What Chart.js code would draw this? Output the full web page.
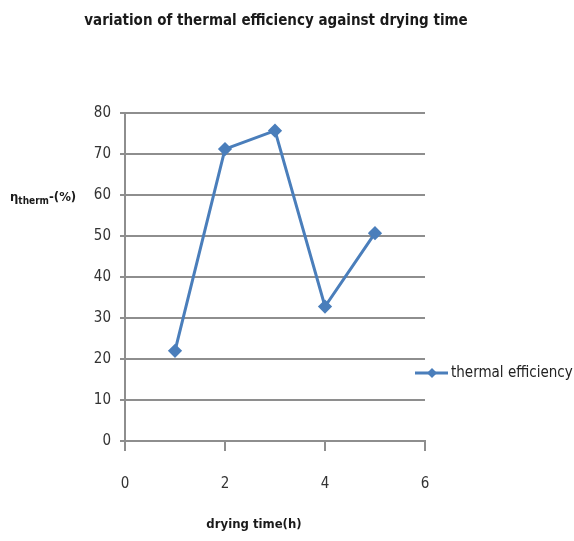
<!DOCTYPE html>
<html>
<head>
<meta charset="utf-8">
<title>thermal efficiency</title>
<script src="https://cdn.jsdelivr.net/npm/chart.js@4.4.1/dist/chart.umd.min.js"></script>
<style>
  html, body { margin: 0; padding: 0; background: #fff; }
  #wrap { width: 574px; height: 541px; position: relative; }
</style>
</head>
<body>
<div id="wrap"><canvas id="chart" width="574" height="541"></canvas></div>
<script>
'use strict';

// drying time (h) and thermal efficiency (%)
const dryingTime = [1, 2, 3, 4, 5];
const thermalEff = [22, 71.2, 75.7, 32.8, 50.7];
const seriesName = 'thermal efficiency';
const chartTitle = 'variation of thermal efficiency against drying time';
const xLabel = 'drying time(h)';

const lineBlue = '#4a7ebb';
const gridGray = '#8e8e8e';
const narrow = '"Liberation Sans Narrow", "DejaVu Sans Condensed", sans-serif';

const points = dryingTime.map((t, i) => ({ x: t, y: thermalEff[i] }));

// title, axis labels and legend are drawn by hand
const decorations = {
  id: 'decorations',
  afterDraw(chart) {
    const ctx = chart.ctx;
    ctx.save();
    ctx.fillStyle = '#1a1a1a';
    ctx.textBaseline = 'middle';

    ctx.font = 'bold 15px ' + narrow;
    ctx.textAlign = 'center';
    ctx.fillText(chartTitle, 276, 21);

    ctx.font = 'bold 13px ' + narrow;
    ctx.fillText(xLabel, 254, 525);

    // y label: eta with subscript
    ctx.textAlign = 'left';
    ctx.font = 'bold 13px ' + narrow;
    ctx.fillText('η', 10, 198);
    let x = 10 + ctx.measureText('η').width;
    ctx.font = 'bold 10px ' + narrow;
    ctx.fillText('therm', x, 201);
    x += ctx.measureText('therm').width;
    ctx.font = 'bold 13px ' + narrow;
    ctx.fillText('-(%)', x, 198);

    // legend
    const ly = 373;
    ctx.strokeStyle = lineBlue;
    ctx.lineWidth = 3;
    ctx.beginPath();
    ctx.moveTo(415, ly);
    ctx.lineTo(448, ly);
    ctx.stroke();
    ctx.fillStyle = lineBlue;
    ctx.beginPath();
    ctx.moveTo(432, ly - 5);
    ctx.lineTo(437, ly);
    ctx.lineTo(432, ly + 5);
    ctx.lineTo(427, ly);
    ctx.closePath();
    ctx.fill();
    ctx.fillStyle = '#222';
    ctx.font = '15px ' + narrow;
    ctx.fillText(seriesName, 451, ly);
    ctx.restore();
  }
};

new Chart(document.getElementById('chart'), {
  type: 'line',
  data: {
    datasets: [{
      label: seriesName,
      data: points,
      borderColor: lineBlue,
      backgroundColor: lineBlue,
      borderWidth: 3,
      pointStyle: 'rectRot',
      pointRadius: 5,
      pointHoverRadius: 5,
      tension: 0
    }]
  },
  options: {
    responsive: false,
    animation: false,
    layout: { padding: { left: 80, right: 149, top: 113, bottom: 50 } },
    plugins: {
      legend: { display: false },
      title: { display: false },
      tooltip: { enabled: false }
    },
    scales: {
      x: {
        type: 'linear',
        min: 0,
        max: 6,
        afterFit(scale) { scale.height = 50; },
        border: { color: gridGray, width: 2 },
        grid: {
          drawOnChartArea: false,
          drawTicks: true,
          tickLength: 10,
          color: gridGray,
          lineWidth: 2
        },
        ticks: {
          stepSize: 2,
          color: '#333',
          font: { family: narrow, size: 15 },
          padding: 24,
          maxRotation: 0
        }
      },
      y: {
        min: 0,
        max: 80,
        afterFit(scale) { scale.width = 45; },
        border: { color: gridGray, width: 2 },
        grid: {
          color: gridGray,
          lineWidth: 2,
          tickLength: 5
        },
        ticks: {
          stepSize: 10,
          color: '#333',
          font: { family: narrow, size: 15 },
          padding: 9
        }
      }
    }
  },
  plugins: [decorations]
});
</script>
</body>
</html>
